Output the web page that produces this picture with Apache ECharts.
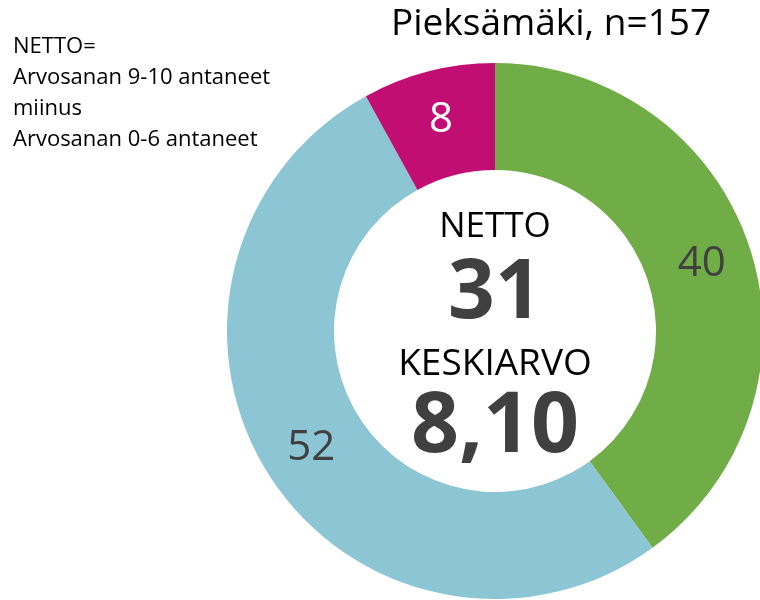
<!DOCTYPE html>
<html>
<head>
<meta charset="utf-8">
<script src="https://cdn.jsdelivr.net/npm/echarts@6/dist/echarts.min.js"></script>
<style>
  html, body { margin: 0; padding: 0; background: #fff; }
  #chart { width: 760px; height: 600px; }
</style>
</head>
<body>
<div id="chart"></div>
<script>
// Data
const categories = ['9-10', '7-8', '0-6']
const values = [40, 52, 8]
const colors = ['#70AD47', '#8CC5D3', '#C20E72']
const labelColors = ['#404040', '#404040', '#ffffff']
const titleText = 'Pieksämäki, n=157'
const noteLines = ['NETTO=', 'Arvosanan 9-10 antaneet', 'miinus', 'Arvosanan 0-6 antaneet']
const nettoValue = '31'
const meanValue = '8,10'

const font = '"Open Sans", "Noto Sans", sans-serif'
const cx = 495
const cy = 331

const chart = echarts.init(document.getElementById('chart'))

// text in the donut hole
const centerTexts = [
  { text: 'NETTO', y: 227, size: 35, weight: 'normal', color: '#000' },
  { text: nettoValue, y: 295, size: 82, weight: 'bold', color: '#404040' },
  { text: 'KESKIARVO', y: 364, size: 37, weight: 'normal', color: '#000' },
  { text: meanValue, y: 428, size: 84, weight: 'bold', color: '#404040' }
]

const option = {
  animation: false,
  title: [
    {
      text: titleText,
      left: 386,
      top: 1,
      textStyle: { fontFamily: font, fontSize: 37, fontWeight: 'normal', color: '#000' }
    },
    {
      text: noteLines.join('\n'),
      left: 8,
      top: 26,
      textStyle: { fontFamily: font, fontSize: 22, fontWeight: 'normal', color: '#000', lineHeight: 31 }
    }
  ],
  series: [
    {
      type: 'pie',
      center: [cx, cy],
      radius: [161, 268],
      startAngle: 90,
      clockwise: true,
      silent: true,
      label: {
        show: true,
        position: 'inside',
        formatter: '{c}',
        fontFamily: font,
        fontSize: 42
      },
      labelLine: { show: false },
      data: categories.map((name, i) => ({
        name: name,
        value: values[i],
        itemStyle: { color: colors[i] },
        label: { color: labelColors[i] }
      }))
    }
  ],
  graphic: centerTexts.map(t => ({
    type: 'text',
    x: cx,
    y: t.y,
    style: {
      text: t.text,
      fill: t.color,
      fontFamily: font,
      fontSize: t.size,
      fontWeight: t.weight,
      align: 'center',
      verticalAlign: 'middle'
    }
  }))
}

chart.setOption(option)
</script>
</body>
</html>
